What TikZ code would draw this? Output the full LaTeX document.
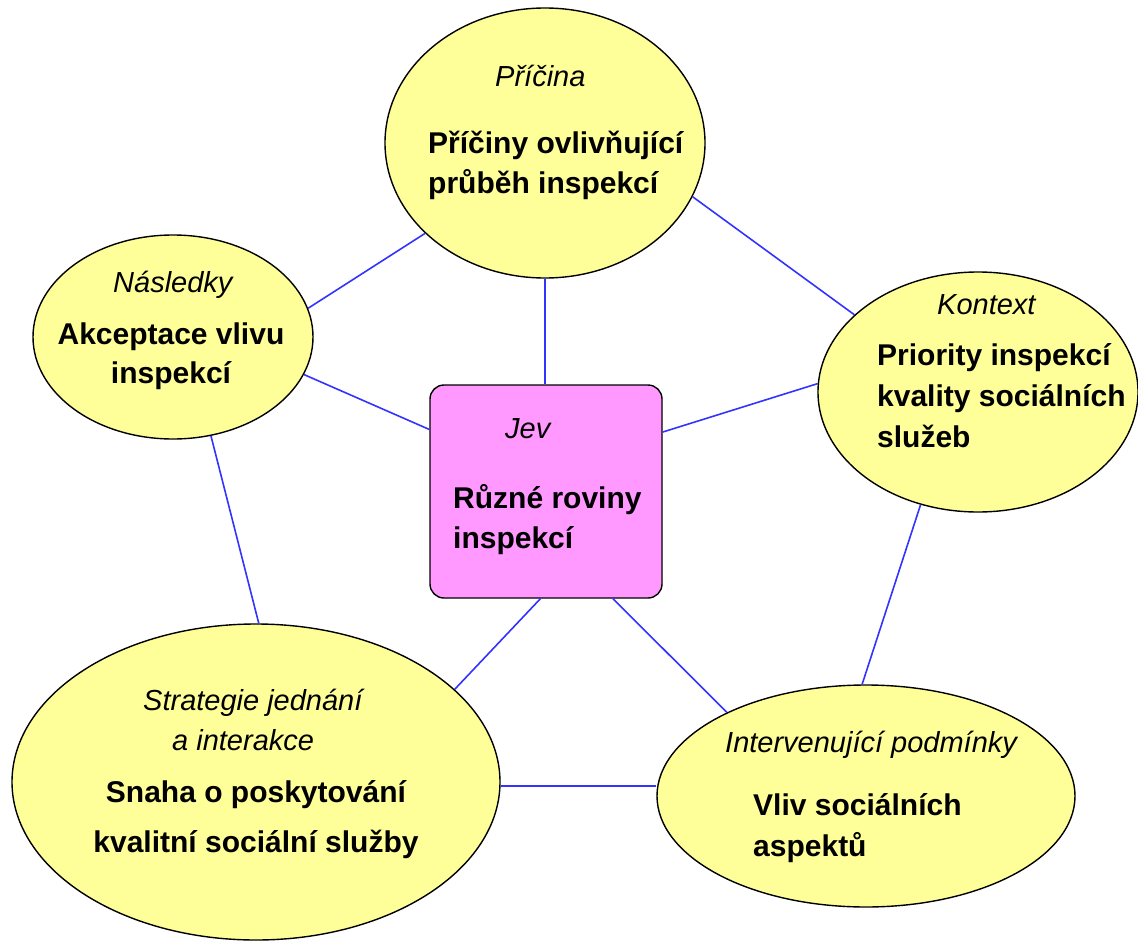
\documentclass[tikz,border=0pt]{standalone}
\usepackage{fontspec}
\setmainfont{Liberation Sans}
\usetikzlibrary{shapes.geometric}
\definecolor{yel}{RGB}{255,255,153}
\definecolor{pnk}{RGB}{255,153,255}
\definecolor{lnk}{RGB}{51,51,255}
\tikzset{
  oval/.style={ellipse, draw=black, line width=1.4pt, fill=yel, inner sep=0pt},
  box/.style={rectangle, rounded corners=14pt, draw=black, line width=1.4pt, fill=pnk, inner sep=0pt},
  lbl/.style={font=\fontsize{29}{35}\selectfont\itshape, inner sep=0pt, anchor=base west},
  txt/.style={font=\fontsize{30}{#1}\selectfont\bfseries, inner sep=0pt, anchor=base west},
  txt/.default=40,
  ctxt/.style={txt=#1, anchor=base},
  link/.style={draw=lnk, line width=1.6pt}
}
\begin{document}
\begin{tikzpicture}[x=1pt,y=-1pt]
\useasboundingbox (0,0) rectangle (1138,942);
\fill[white] (0,0) rectangle (1138,942);
% shapes
\node[oval, minimum width=320pt, minimum height=270pt] (P) at (545,143) {};
\node[oval, minimum width=280pt, minimum height=204pt] (N) at (173,337) {};
\node[oval, minimum width=320pt, minimum height=240pt] (K) at (978,392) {};
\node[oval, minimum width=488pt, minimum height=316pt] (S) at (256,782) {};
\node[oval, minimum width=418pt, minimum height=222pt] (I) at (866,796) {};
\node[box, minimum width=232pt, minimum height=213pt] (J) at (546,491.5) {};
% connectors
\draw[link] (P.217) -- (N.12);
\draw[link] (P.340) -- (K.148);
\draw[link] (P.south) -- (P.south |- J.north);
\draw[link] (N.344) -- (J.152);
\draw[link] (K.177) -- (J.27);
\draw[link] (N.291) -- (S.89);
\draw[link] (K.243) -- (I.92);
\draw[link] (J.267) -- (S.25);
\draw[link] (J.302) -- (I.149);
\draw[link] (S.-1.4) -- (S.-1.4 -| I.west);
% texts
\node[lbl] (Pl) at (495,87) {Příčina};
\node[txt=40] (Pt) at (428,153) {\begin{tabular}[t]{@{}l@{}}Příčiny ovlivňující\\průběh inspekcí\end{tabular}};
\node[lbl] (Nl) at (113,292) {Následky};
\node[ctxt=39] (Nt) at (171,344) {\begin{tabular}[t]{@{}c@{}}Akceptace vlivu\\inspekcí\end{tabular}};
\node[lbl] (Kl) at (937,314) {Kontext};
\node[txt=41] (Kt) at (877,365) {\begin{tabular}[t]{@{}l@{}}Priority inspekcí\\kvality sociálních\\služeb\end{tabular}};
\node[lbl] (Jl) at (505,438) {Jev};
\node[txt=40] (Jt) at (453,508) {\begin{tabular}[t]{@{}l@{}}Různé roviny\\inspekcí\end{tabular}};
\node[lbl] (Sl1) at (143,710) {Strategie jednání};
\node[lbl] (Sl2) at (172,750) {a interakce};
\node[ctxt=50] (St) at (256,802) {\begin{tabular}[t]{@{}c@{}}Snaha o poskytování\\kvalitní sociální služby\end{tabular}};
\node[lbl] (Il) at (725,752) {Intervenující podmínky};
\node[txt=41] (It) at (753,815) {\begin{tabular}[t]{@{}l@{}}Vliv sociálních\\aspektů\end{tabular}};
\end{tikzpicture}
\end{document}
